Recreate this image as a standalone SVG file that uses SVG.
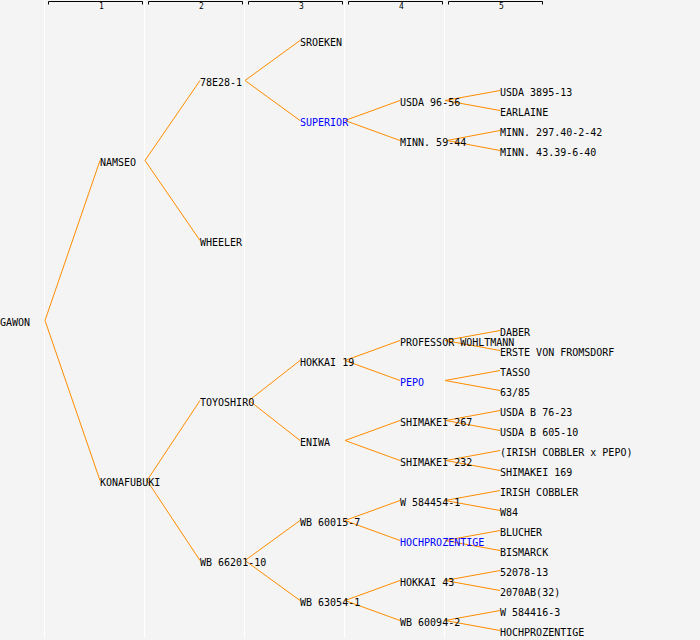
<svg xmlns="http://www.w3.org/2000/svg" width="700" height="640" viewBox="0 0 700 640">
<style>
.t{font-family:"DejaVu Sans Mono","Liberation Mono",monospace;font-size:10px;fill:#000}
.b{fill:#0000ff}
.h{font-family:"DejaVu Sans Mono","Liberation Mono",monospace;font-size:8px;fill:#000;text-anchor:middle}
.c{fill:none;stroke:#ff8c00;stroke-width:1}
.sep{stroke:#ffffff;stroke-width:1}
.br{fill:none;stroke:#000;stroke-width:1}
</style>
<rect x="0" y="0" width="700" height="640" fill="#f4f4f4"/>
<g id="columns">
<line class="sep" x1="44.5" y1="0" x2="44.5" y2="638"/>
<line class="sep" x1="144.5" y1="0" x2="144.5" y2="638"/>
<line class="sep" x1="244.5" y1="0" x2="244.5" y2="638"/>
<line class="sep" x1="344.5" y1="0" x2="344.5" y2="638"/>
<line class="sep" x1="444.5" y1="0" x2="444.5" y2="638"/>
</g>
<g id="header">
<path class="br" d="M48.5,4.5V1.5H142.5V4.5"/>
<path class="br" d="M148.5,4.5V1.5H242.5V4.5"/>
<path class="br" d="M248.5,4.5V1.5H342.5V4.5"/>
<path class="br" d="M348.5,4.5V1.5H442.5V4.5"/>
<path class="br" d="M448.5,4.5V1.5H542.5V4.5"/>
<text class="h" x="101.5" y="9">1</text>
<text class="h" x="201.5" y="9">2</text>
<text class="h" x="301.5" y="9">3</text>
<text class="h" x="401.5" y="9">4</text>
<text class="h" x="501.5" y="9">5</text>
</g>
<g id="connectors">
<polyline class="c" points="100,160.5 45,320.5 100,480.5"/>
<polyline class="c" points="200,80.5 145,160.5 200,240.5"/>
<polyline class="c" points="200,400.5 147,480.5 200,560.5"/>
<polyline class="c" points="300,40.5 245,80.5 300,120.5"/>
<polyline class="c" points="300,360.5 249,400.5 300,440.5"/>
<polyline class="c" points="300,520.5 245,560.5 300,600.5"/>
<polyline class="c" points="400,100.5 345,120.5 400,140.5"/>
<polyline class="c" points="400,340.5 345,360.5 400,380.5"/>
<polyline class="c" points="400,420.5 345,440.5 400,460.5"/>
<polyline class="c" points="400,500.5 345,520.5 400,540.5"/>
<polyline class="c" points="400,580.5 345,600.5 400,620.5"/>
<polyline class="c" points="500,90.5 445,100.5 500,110.5"/>
<polyline class="c" points="500,130.5 447,140.5 500,150.5"/>
<polyline class="c" points="500,330.5 445,340.5 500,350.5"/>
<polyline class="c" points="500,370.5 445,380.5 500,390.5"/>
<polyline class="c" points="500,410.5 446,420.5 500,430.5"/>
<polyline class="c" points="500,450.5 446,460.5 500,470.5"/>
<polyline class="c" points="500,490.5 445,500.5 500,510.5"/>
<polyline class="c" points="500,530.5 445,540.5 500,550.5"/>
<polyline class="c" points="500,570.5 445,580.5 500,590.5"/>
<polyline class="c" points="500,610.5 445,620.5 500,630.5"/>
</g>
<g id="n-gawon"><text class="t" x="0" y="326">GAWON</text></g>
<g id="n-namseo"><text class="t" x="100" y="166">NAMSEO</text></g>
<g id="n-konafubuki"><text class="t" x="100" y="486">KONAFUBUKI</text></g>
<g id="n-78e28-1"><text class="t" x="200" y="86">78E28-1</text></g>
<g id="n-wheeler"><text class="t" x="200" y="246">WHEELER</text></g>
<g id="n-toyoshiro"><text class="t" x="200" y="406">TOYOSHIRO</text></g>
<g id="n-wb66201-10"><text class="t" x="200" y="566">WB 66201-10</text></g>
<g id="n-sroeken"><text class="t" x="300" y="46">SROEKEN</text></g>
<g id="n-superior"><text class="t b" x="300" y="126">SUPERIOR</text></g>
<g id="n-hokkai19"><text class="t" x="300" y="366">HOKKAI 19</text></g>
<g id="n-eniwa"><text class="t" x="300" y="446">ENIWA</text></g>
<g id="n-wb60015-7"><text class="t" x="300" y="526">WB 60015-7</text></g>
<g id="n-wb63054-1"><text class="t" x="300" y="606">WB 63054-1</text></g>
<g id="n-usda96-56"><text class="t" x="400" y="106">USDA 96-56</text></g>
<g id="n-minn59-44"><text class="t" x="400" y="146">MINN. 59-44</text></g>
<g id="n-professor"><text class="t" x="400" y="346">PROFESSOR WOHLTMANN</text></g>
<g id="n-pepo"><text class="t b" x="400" y="386">PEPO</text></g>
<g id="n-shimakei267"><text class="t" x="400" y="426">SHIMAKEI 267</text></g>
<g id="n-shimakei232"><text class="t" x="400" y="466">SHIMAKEI 232</text></g>
<g id="n-w584454-1"><text class="t" x="400" y="506">W 584454-1</text></g>
<g id="n-hochprozentige-4"><text class="t b" x="400" y="546">HOCHPROZENTIGE</text></g>
<g id="n-hokkai43"><text class="t" x="400" y="586">HOKKAI 43</text></g>
<g id="n-wb60094-2"><text class="t" x="400" y="626">WB 60094-2</text></g>
<g id="n-usda3895-13"><text class="t" x="500" y="96">USDA 3895-13</text></g>
<g id="n-earlaine"><text class="t" x="500" y="116">EARLAINE</text></g>
<g id="n-minn297"><text class="t" x="500" y="136">MINN. 297.40-2-42</text></g>
<g id="n-minn43"><text class="t" x="500" y="156">MINN. 43.39-6-40</text></g>
<g id="n-daber"><text class="t" x="500" y="336">DABER</text></g>
<g id="n-erste"><text class="t" x="500" y="356">ERSTE VON FROMSDORF</text></g>
<g id="n-tasso"><text class="t" x="500" y="376">TASSO</text></g>
<g id="n-63-85"><text class="t" x="500" y="396">63/85</text></g>
<g id="n-usdab76-23"><text class="t" x="500" y="416">USDA B 76-23</text></g>
<g id="n-usdab605-10"><text class="t" x="500" y="436">USDA B 605-10</text></g>
<g id="n-icxpepo"><text class="t" x="500" y="456">(IRISH COBBLER x PEPO)</text></g>
<g id="n-shimakei169"><text class="t" x="500" y="476">SHIMAKEI 169</text></g>
<g id="n-irishcobbler"><text class="t" x="500" y="496">IRISH COBBLER</text></g>
<g id="n-w84"><text class="t" x="500" y="516">W84</text></g>
<g id="n-blucher"><text class="t" x="500" y="536">BLUCHER</text></g>
<g id="n-bismarck"><text class="t" x="500" y="556">BISMARCK</text></g>
<g id="n-52078-13"><text class="t" x="500" y="576">52078-13</text></g>
<g id="n-2070ab32"><text class="t" x="500" y="596">2070AB(32)</text></g>
<g id="n-w584416-3"><text class="t" x="500" y="616">W 584416-3</text></g>
<g id="n-hochprozentige-5"><text class="t" x="500" y="636">HOCHPROZENTIGE</text></g>
</svg>
